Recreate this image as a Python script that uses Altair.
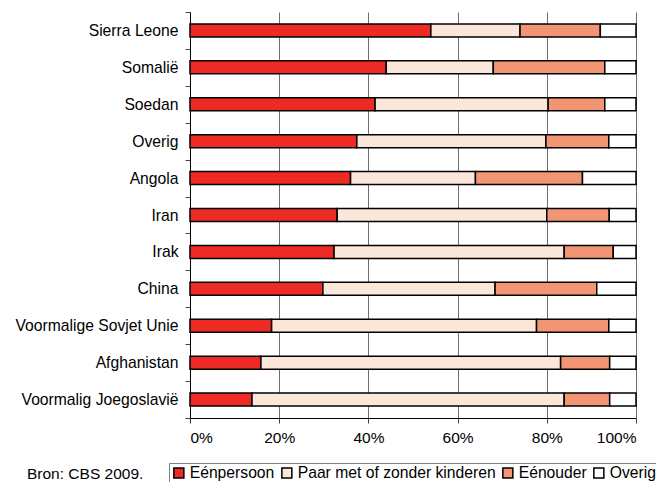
import altair as alt
import pandas as pd

countries = ["Sierra Leone", "Somalië", "Soedan", "Overig", "Angola", "Iran", "Irak",
             "China", "Voormalige Sovjet Unie", "Afghanistan", "Voormalig Joegoslavië"]
categories = ["Eénpersoon", "Paar met of zonder kinderen", "Eénouder", "Overig"]
eenpersoon = [54.0, 44.0, 41.5, 37.4, 36.0, 33.0, 32.3, 29.8, 18.3, 15.9, 13.9]
paar = [20.0, 24.0, 38.8, 42.4, 28.0, 47.0, 51.6, 38.6, 59.4, 67.2, 70.0]
eenouder = [18.0, 25.0, 12.7, 14.1, 24.0, 14.0, 11.0, 22.8, 16.2, 11.0, 10.2]
overig = [8.0, 7.0, 7.0, 6.1, 12.0, 6.0, 5.1, 8.8, 6.1, 5.9, 5.9]
colors = ["#EE2A24", "#FBE7D9", "#F19574", "#FFFFFF"]
x_ticks = [0, 0.2, 0.4, 0.6, 0.8, 1.0]
source_note = ["Bron: CBS 2009."]

series = [eenpersoon, paar, eenouder, overig]
rows = []
for ci, cat in enumerate(categories):
    for country, v in zip(countries, series[ci]):
        rows.append({"land": country, "type": cat, "waarde": v, "idx": ci})
df = pd.DataFrame(rows)

FONT = "Liberation Sans"

bars = alt.Chart(df).mark_bar(size=13, stroke="black", strokeWidth=1.5).encode(
    y=alt.Y("land:N", sort=countries,
            scale=alt.Scale(paddingInner=0, paddingOuter=0),
            axis=alt.Axis(title=None, tickBand="extent", tickSize=5, labelPadding=7,
                          labelFontSize=15.7, labelFont=FONT, labelColor="black",
                          domainColor="black", tickColor="#444", grid=False,
                          labelLimit=300)),
    x=alt.X("waarde:Q", stack="normalize",
            scale=alt.Scale(domain=[0, 1], nice=False),
            axis=alt.Axis(title=None, values=x_ticks, format=".0%", tickSize=5,
                          labelPadding=7, labelFontSize=15.5, labelFont=FONT,
                          labelColor="black", domainColor="black", tickColor="#444",
                          grid=True, gridColor="#6e6e6e", gridWidth=1)),
    color=alt.Color("type:N", scale=alt.Scale(domain=categories, range=colors),
                    legend=alt.Legend(title=None, orient="none", legendX=-21, legendY=451,
                                      direction="horizontal", strokeColor="#808080",
                                      fillColor="white", padding=2, symbolType="square",
                                      symbolSize=100, symbolStrokeColor="black",
                                      symbolStrokeWidth=1.5, labelFontSize=15.7,
                                      labelFont=FONT, labelColor="black", labelOffset=3,
                                      columnPadding=3, labelLimit=300)),
    order=alt.Order("idx:Q", sort="ascending"),
)

note = alt.Chart(pd.DataFrame({"t": source_note})).mark_text(
    align="left", baseline="alphabetic", fontSize=15.5, font=FONT, color="black"
).encode(text="t:N", x=alt.value(-163), y=alt.value(467))

chart = alt.layer(bars, note).properties(
    width=446, height=406,
    autosize=alt.AutoSizeParams(type="none"),
    padding={"left": 182, "top": 4, "right": 20, "bottom": 64},
).configure_view(stroke=None)

chart.save("out.html", embed_options={"renderer": "svg", "actions": False})
